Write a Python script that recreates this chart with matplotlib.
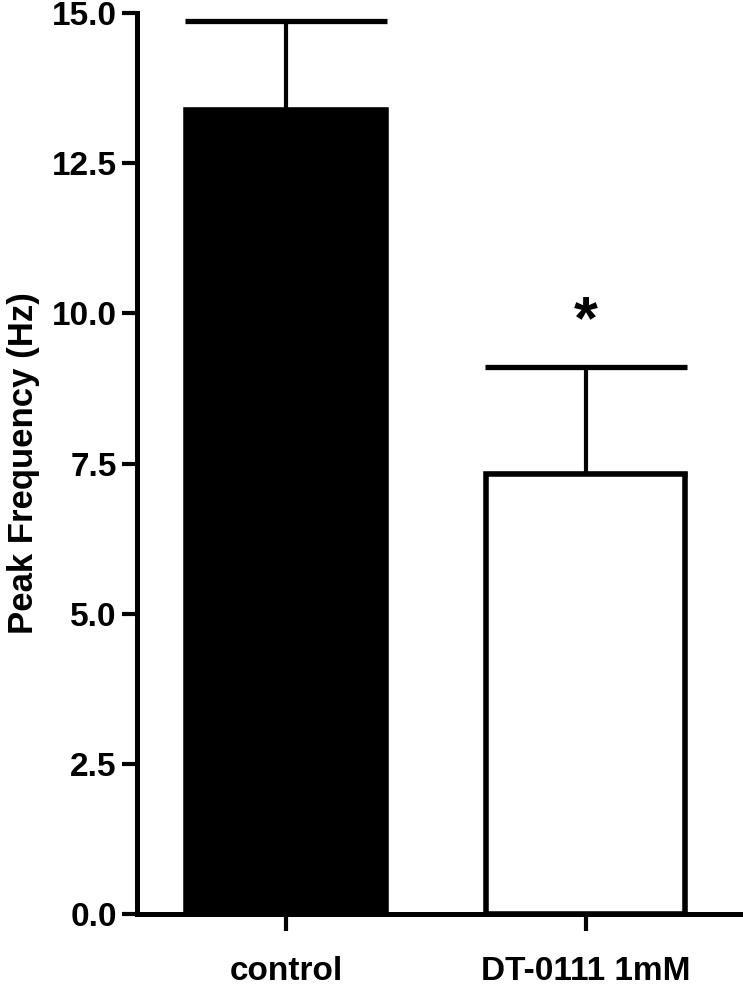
import matplotlib
matplotlib.use("Agg")
import matplotlib.pyplot as plt

categories = ["control", "DT-0111 1mM"]
means = [13.38, 7.33]
sem = [1.49, 1.77]
bar_colors = ["black", "white"]
yticks = [0.0, 2.5, 5.0, 7.5, 10.0, 12.5, 15.0]
ytick_labels = ["0.0", "2.5", "5.0", "7.5", "10.0", "12.5", "15.0"]
star_label = "*"
star_y = 9.85
ylabel = "Peak Frequency (Hz)"

plt.rcParams['font.family'] = ['Liberation Sans', 'DejaVu Sans']
plt.rcParams['font.weight'] = 'bold'

fig = plt.figure(figsize=(7.43, 9.86), dpi=100)
ax = fig.add_axes([137/743, (986-914)/986, 1 - 137/743, (914-13)/986])

x = list(range(len(categories)))
ax.errorbar(x, means, yerr=[[0]*len(sem), sem], fmt='none', ecolor='black',
            elinewidth=3.0, capsize=73, capthick=3.8, zorder=1)
ax.bar(x, means, width=0.665, color=bar_colors, edgecolor='black',
       linewidth=4.0, zorder=2)

ax.text(x[1], star_y, star_label, ha='center', va='center', fontsize=44,
        fontweight='bold')

ax.set_xlim(-0.497, 1.525)
ax.set_ylim(0, 15)
ax.set_yticks(yticks)
ax.set_yticklabels(ytick_labels)
ax.set_xticks(x)
ax.set_xticklabels(categories)

for s in ['top', 'right']:
    ax.spines[s].set_visible(False)
for s in ['left', 'bottom']:
    ax.spines[s].set_linewidth(3.6)
    ax.spines[s].set_capstyle('projecting')

ax.tick_params(axis='y', length=11, width=3.0, pad=3.5, labelsize=24)
ax.tick_params(axis='x', length=12, width=3.0, pad=18, labelsize=24)
for lab in ax.get_xticklabels() + ax.get_yticklabels():
    lab.set_fontweight('bold')

ax.set_ylabel(ylabel, fontsize=25, fontweight='bold')
ax.yaxis.set_label_coords(-0.16, 0.5)

fig.savefig("out.png", dpi=100)
